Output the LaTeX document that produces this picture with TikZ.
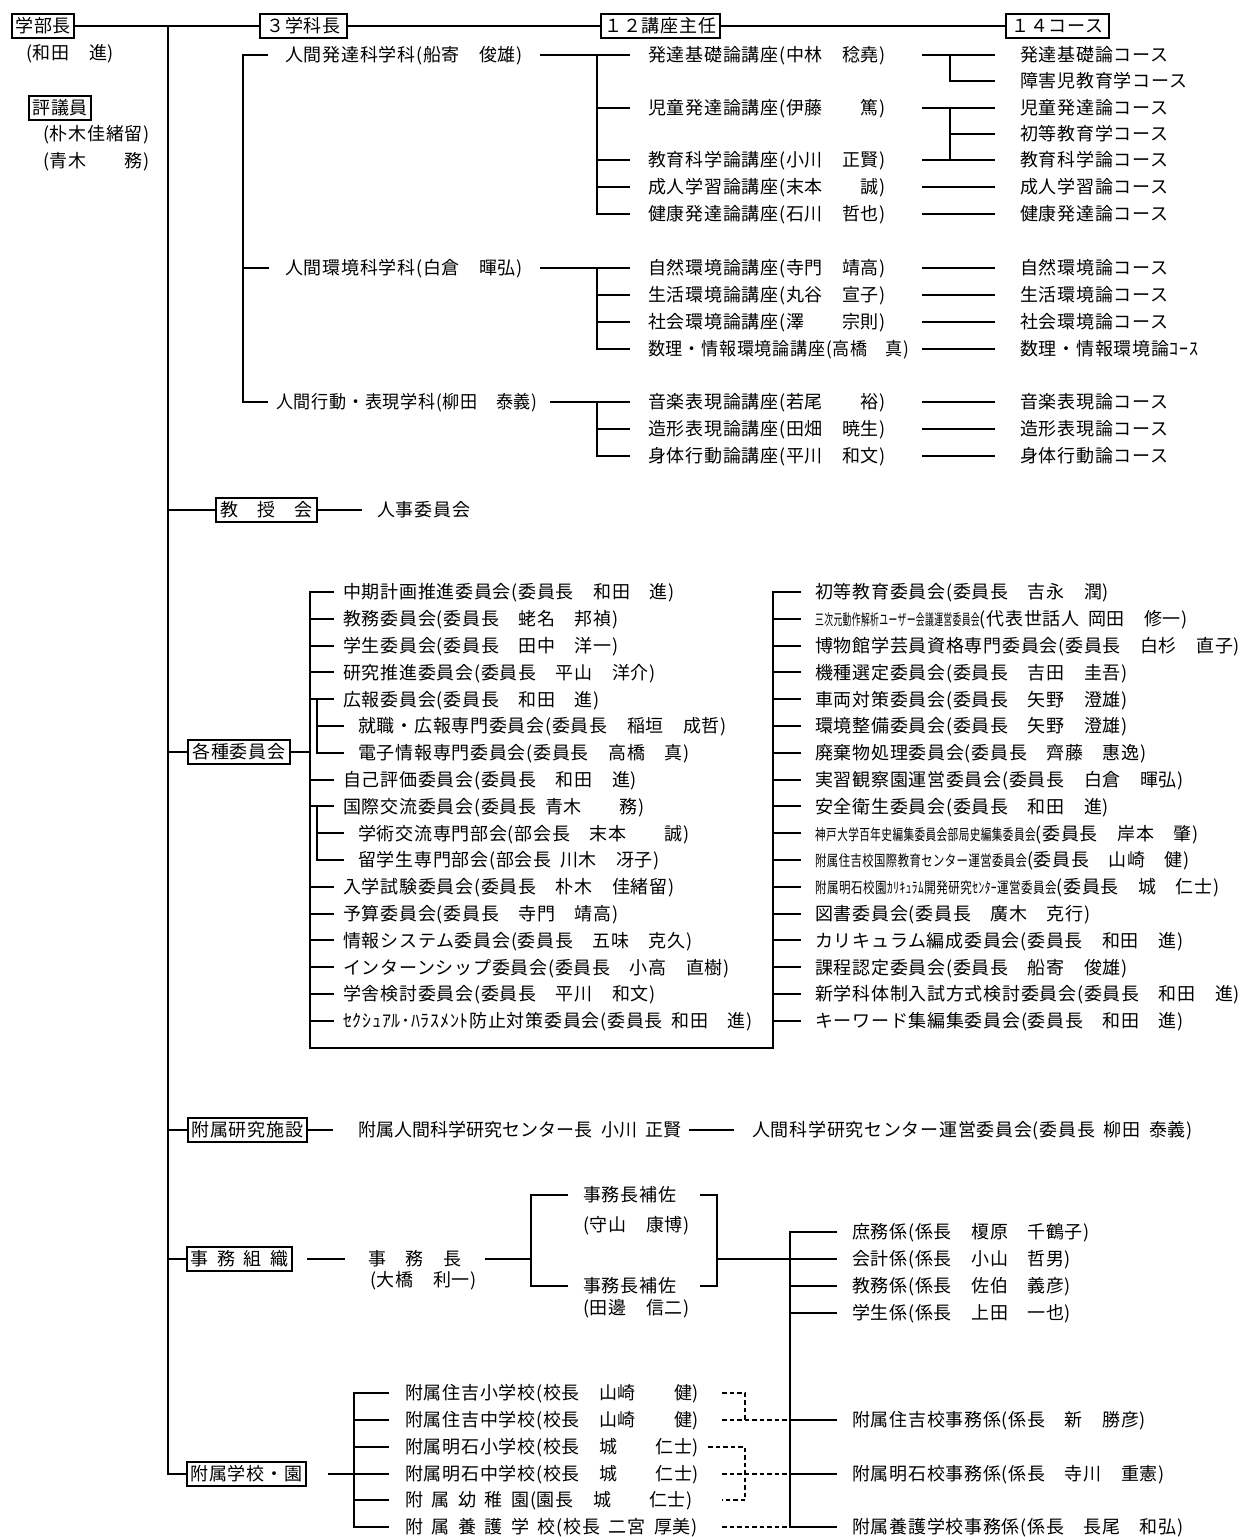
\documentclass[tikz,border=0pt]{standalone}
\usepackage{fontspec}
\usepackage{graphicx}
\setmainfont{Noto Sans CJK JP}[WordSpace=1.8,LetterSpace=4]
\newfontfamily\plainjp{Noto Sans CJK JP}[WordSpace=2.2]
\newcommand\fsz{\fontsize{18}{21}\selectfont}
\newcommand\cnd[2]{\scalebox{#1}[0.85]{#2}}
\tikzset{
  ln/.style={line width=1.9pt},
  dl/.style={line width=1.5pt, dash pattern=on 4.5pt off 3pt},
  bx/.style={draw, line width=1.9pt, anchor=west, inner xsep=3.5pt, inner ysep=2.5pt, font=\fsz, text height=16pt, text depth=2.4pt},
  tx/.style={anchor=west, inner sep=0pt, font=\fsz, text height=16pt, text depth=2.4pt},
}
\begin{document}
\begin{tikzpicture}[x=1pt,y=-1pt]
\useasboundingbox (0,0) rectangle (1242,1537);
\fill[white] (0,0) rectangle (1242,1537);

% ---------- top ----------
\node[bx] (dean) at (11,26) {学部長};
\node[tx] (deanN) at (26,53) {(和田　進)};
\node[bx] (giin) at (28,108) {評議員};
\node[tx] (giin1) at (43,134) {(朴木佳緒留)};
\node[tx] (giin2) at (43,161) {(青木　　務)};
\node[bx, minimum width=87pt] (hdA) at (259,26) {３学科長};
\node[bx, minimum width=116pt] (hdB) at (600,26) {１２講座主任};
\node[bx, minimum width=103pt] (hdC) at (1005,26) {１４コース};
\draw[ln] (dean.east) -- (hdA.west) (hdA.east) -- (hdB.west) (hdB.east) -- (hdC.west);

% ---------- departments ----------
\node[tx] (d1) at (285,55) {人間発達科学科(船寄　俊雄)};
\node[tx] (d2) at (285,268) {人間環境科学科(白倉　暉弘)};
\node[tx] (d3) at (276,402) {\scalebox{0.95}[1]{人間行動・表現学科(柳田　泰義)}};
\draw[ln] ([xshift=-17pt]d1.west) -- (243,55) -- (243,402) -- ([xshift=-8pt]d3.west);
\draw[ln] (243,268) -- ([xshift=-16pt]d2.west);

% ---------- lectures ----------
\node[tx] (l11) at (648,55) {発達基礎論講座(中林　稔堯)};
\node[tx] (l12) at (648,108) {児童発達論講座(伊藤　　篤)};
\node[tx] (l13) at (648,160) {教育科学論講座(小川　正賢)};
\node[tx] (l14) at (648,187) {成人学習論講座(末本　　誠)};
\node[tx] (l15) at (648,214) {健康発達論講座(石川　哲也)};
\node[tx] (l21) at (648,268) {自然環境論講座(寺門　靖高)};
\node[tx] (l22) at (648,295) {生活環境論講座(丸谷　宣子)};
\node[tx] (l23) at (648,322) {社会環境論講座(澤　　宗則)};
\node[tx] (l24) at (648,349) {\scalebox{0.95}[1]{数理・情報環境論講座(高橋　真)}};
\node[tx] (l31) at (648,402) {音楽表現論講座(若尾　　裕)};
\node[tx] (l32) at (648,429) {造形表現論講座(田畑　暁生)};
\node[tx] (l33) at (648,456) {身体行動論講座(平川　和文)};

\draw[ln] (540,55) -- ([xshift=-18pt]l11.west);
\draw[ln] (597,55) |- ([xshift=-18pt]l15.west);
\foreach \n in {l12,l13,l14} \draw[ln] (597,0 |- \n.west) -- ([xshift=-18pt]\n.west);
\draw[ln] (540,268) -- ([xshift=-18pt]l21.west);
\draw[ln] (597,268) |- ([xshift=-18pt]l24.west);
\foreach \n in {l22,l23} \draw[ln] (597,0 |- \n.west) -- ([xshift=-18pt]\n.west);
\draw[ln] (550,402) -- ([xshift=-18pt]l31.west);
\draw[ln] (597,402) |- ([xshift=-18pt]l33.west);
\draw[ln] (597,429) -- ([xshift=-18pt]l32.west);

% ---------- courses ----------
\node[tx] (c1) at (1020,55) {発達基礎論コース};
\node[tx] (c2) at (1020,81) {障害児教育学コース};
\node[tx] (c3) at (1020,108) {児童発達論コース};
\node[tx] (c4) at (1020,134) {初等教育学コース};
\node[tx] (c5) at (1020,160) {教育科学論コース};
\node[tx] (c6) at (1020,187) {成人学習論コース};
\node[tx] (c7) at (1020,214) {健康発達論コース};
\node[tx] (c8) at (1020,268) {自然環境論コース};
\node[tx] (c9) at (1020,295) {生活環境論コース};
\node[tx] (c10) at (1020,322) {社会環境論コース};
\node[tx] (c11) at (1020,349) {数理・情報環境論ｺｰｽ};
\node[tx] (c12) at (1020,402) {音楽表現論コース};
\node[tx] (c13) at (1020,429) {造形表現論コース};
\node[tx] (c14) at (1020,456) {身体行動論コース};
\foreach \n in {c1,c3,c5,c6,c7,c8,c9,c10,c11,c12,c13,c14}
  \draw[ln] (922,0 |- \n.west) -- ([xshift=-25pt]\n.west);
\draw[ln] (950,55) |- ([xshift=-25pt]c2.west);
\draw[ln] (950,108) -- (950,160);
\draw[ln] (950,134) -- ([xshift=-25pt]c4.west);

% ---------- trunk ----------
\node[bx, minimum width=101pt] (kyoju) at (215,510) {教　授　会};
\node[tx] (jinji) at (377,510) {人事委員会};
\node[bx, minimum width=102pt] (iin) at (187,752) {各種委員会};
\node[bx, minimum width=116pt] (ken) at (187,1130) {附属研究施設};
\node[bx, minimum width=104pt] (jim) at (186,1259) {事 務 組 織};
\node[bx, minimum width=117pt] (sch) at (186,1474) {附属学校・園};
\draw[ln] (168,26) |- (sch.west);
\foreach \n in {kyoju,iin,ken,jim} \draw[ln] (168,0 |- \n.west) -- (\n.west);
\draw[ln] (kyoju.east) -- ([xshift=-15pt]jinji.west);

% ---------- committees left ----------
\node[tx] (L1) at (343,592) {中期計画推進委員会(委員長　和田　進)};
\node[tx] (L2) at (343,618.8) {教務委員会(委員長　蛯名　邦禎)};
\node[tx] (L3) at (343,645.6) {学生委員会(委員長　田中　洋一)};
\node[tx] (L4) at (343,672.4) {研究推進委員会(委員長　平山　洋介)};
\node[tx] (L5) at (343,699.2) {広報委員会(委員長　和田　進)};
\node[tx] (L6) at (358,726) {就職・広報専門委員会(委員長　稲垣　成哲)};
\node[tx] (L7) at (358,752.8) {電子情報専門委員会(委員長　高橋　真)};
\node[tx] (L8) at (343,779.6) {自己評価委員会(委員長　和田　進)};
\node[tx] (L9) at (343,806.4) {国際交流委員会(委員長 青木　　務)};
\node[tx] (L10) at (358,833.2) {学術交流専門部会(部会長　末本　　誠)};
\node[tx] (L11) at (358,860) {留学生専門部会(部会長 川木　冴子)};
\node[tx] (L12) at (343,886.8) {入学試験委員会(委員長　朴木　佳緒留)};
\node[tx] (L13) at (343,913.6) {予算委員会(委員長　寺門　靖高)};
\node[tx] (L14) at (343,940.4) {情報システム委員会(委員長　五味　克久)};
\node[tx] (L15) at (343,967.2) {インターンシップ委員会(委員長　小高　直樹)};
\node[tx] (L16) at (343,994) {学舎検討委員会(委員長　平川　和文)};
\node[tx] (L17) at (343,1020.8) {ｾｸｼｭｱﾙ･ﾊﾗｽﾒﾝﾄ防止対策委員会(委員長 和田　進)};

% ---------- committees right ----------
\node[tx] (R1) at (815,592) {初等教育委員会(委員長　吉永　潤)};
\node[tx] (R2) at (815,618.8) {\cnd{0.49}{三次元動作解析ユーザー会議運営委員会}(代表世話人 岡田　修一)};
\node[tx] (R3) at (815,645.6) {博物館学芸員資格専門委員会(委員長　白杉　直子)};
\node[tx] (R4) at (815,672.4) {機種選定委員会(委員長　吉田　圭吾)};
\node[tx] (R5) at (815,699.2) {車両対策委員会(委員長　矢野　澄雄)};
\node[tx] (R6) at (815,726) {環境整備委員会(委員長　矢野　澄雄)};
\node[tx] (R7) at (815,752.8) {廃棄物処理委員会(委員長　齊藤　惠逸)};
\node[tx] (R8) at (815,779.6) {実習観察園運営委員会(委員長　白倉　暉弘)};
\node[tx] (R9) at (815,806.4) {安全衛生委員会(委員長　和田　進)};
\node[tx] (R10) at (815,833.2) {\cnd{0.59}{神戸大学百年史編集委員会部局史編集委員会}(委員長　岸本　肇)};
\node[tx] (R11) at (815,860) {\cnd{0.63}{附属住吉校国際教育センター運営委員会}(委員長　山崎　健)};
\node[tx] (R12) at (815,886.8) {\cnd{0.64}{附属明石校園ｶﾘｷｭﾗﾑ開発研究ｾﾝﾀｰ運営委員会}(委員長　城　仁士)};
\node[tx] (R13) at (815,913.6) {図書委員会(委員長　廣木　克行)};
\node[tx] (R14) at (815,940.4) {カリキュラム編成委員会(委員長　和田　進)};
\node[tx] (R15) at (815,967.2) {課程認定委員会(委員長　船寄　俊雄)};
\node[tx] (R16) at (815,994) {新学科体制入試方式検討委員会(委員長　和田　進)};
\node[tx] (R17) at (815,1020.8) {キーワード集編集委員会(委員長　和田　進)};

\draw[ln] (iin.east) -- (310,752);
\draw[ln] ([xshift=-9pt]L1.west) -| (310,1048) -- (773,1048) |- ([xshift=-14pt]R1.west);
\foreach \n in {L2,L3,L4,L5,L8,L9,L12,L13,L14,L15,L16,L17}
  \draw[ln] (310,0 |- \n.west) -- ([xshift=-9pt]\n.west);
\draw[ln] (317,0 |- L5.west) |- ([xshift=-14pt]L7.west);
\draw[ln] (317,0 |- L6.west) -- ([xshift=-14pt]L6.west);
\draw[ln] (317,0 |- L9.west) |- ([xshift=-14pt]L11.west);
\draw[ln] (317,0 |- L10.west) -- ([xshift=-14pt]L10.west);
\foreach \n in {R2,R3,R4,R5,R6,R7,R8,R9,R10,R11,R12,R13,R14,R15,R16,R17}
  \draw[ln] (773,0 |- \n.west) -- ([xshift=-14pt]\n.west);

% ---------- research facility ----------
\node[tx, font=\fsz\plainjp] (kenC) at (358,1130) {附属人間科学研究センター長 小川 正賢};
\node[tx] (kenU) at (752,1130) {人間科学研究センター運営委員会(委員長 柳田 泰義)};
\draw[ln] (ken.east) -- ([xshift=-25pt]kenC.west);
\draw[ln] (689,1130) -- ([xshift=-18pt]kenU.west);

% ---------- office ----------
\node[tx] (jc) at (368,1259) {事　務　長};
\node[tx] (jcN) at (370,1280) {(大橋　利一)};
\node[tx] (h1) at (583,1195) {事務長補佐};
\node[tx] (h1n) at (583,1225) {(守山　康博)};
\node[tx] (h2) at (583,1286) {事務長補佐};
\node[tx] (h2n) at (583,1308) {(田邊　信二)};
\draw[ln] (307,1259) -- ([xshift=-23pt]jc.west);
\draw[ln] (485,1259) -- (531,1259);
\draw[ln] ([xshift=-15pt]h1.west) -| (531,1286) -- ([xshift=-15pt]h2.west);
\draw[ln] (700,1195) -- (717,1195) -- (717,1286) -- (700,1286);

\node[tx] (s1) at (852,1232) {庶務係(係長　榎原　千鶴子)};
\node[tx] (s2) at (852,1259) {会計係(係長　小山　哲男)};
\node[tx] (s3) at (852,1286) {教務係(係長　佐伯　義彦)};
\node[tx] (s4) at (852,1313) {学生係(係長　上田　一也)};
\node[tx] (s5) at (852,1420) {附属住吉校事務係(係長　新　勝彦)};
\node[tx] (s6) at (852,1474) {附属明石校事務係(係長　寺川　重憲)};
\node[tx] (s7) at (852,1527) {附属養護学校事務係(係長　長尾　和弘)};
\draw[ln] (717,1259) -- ([xshift=-15pt]s2.west);
\draw[ln] ([xshift=-15pt]s1.west) -| (790,1527) -- ([xshift=-15pt]s7.west);
\foreach \n in {s3,s4,s5,s6} \draw[ln] (790,0 |- \n.west) -- ([xshift=-15pt]\n.west);

% ---------- schools ----------
\node[tx] (k1) at (405,1393) {附属住吉小学校(校長　山崎　　健)};
\node[tx] (k2) at (405,1420) {附属住吉中学校(校長　山崎　　健)};
\node[tx] (k3) at (405,1447) {附属明石小学校(校長　城　　仁士)};
\node[tx] (k4) at (405,1474) {附属明石中学校(校長　城　　仁士)};
\node[tx] (k5) at (405,1500) {附 属 幼 稚 園(園長　城　　仁士)};
\node[tx] (k6) at (405,1527) {附 属 養 護 学 校(校長 二宮 厚美)};
\draw[ln] (328,1474) -- (354,1474);
\draw[ln] ([xshift=-16pt]k1.west) -| (354,1527) -- ([xshift=-16pt]k6.west);
\foreach \n in {k2,k3,k4,k5} \draw[ln] (354,0 |- \n.west) -- ([xshift=-16pt]\n.west);

\draw[dl] (722,1393) -- (745,1393) -- (745,1420);
\draw[dl] (722,1420) -- (790,1420);
\draw[dl] (708,1447) -- (745,1447) -- (745,1500) -- (722,1500);
\draw[dl] (722,1474) -- (790,1474);
\draw[dl] (722,1527) -- (790,1527);
\end{tikzpicture}
\end{document}
